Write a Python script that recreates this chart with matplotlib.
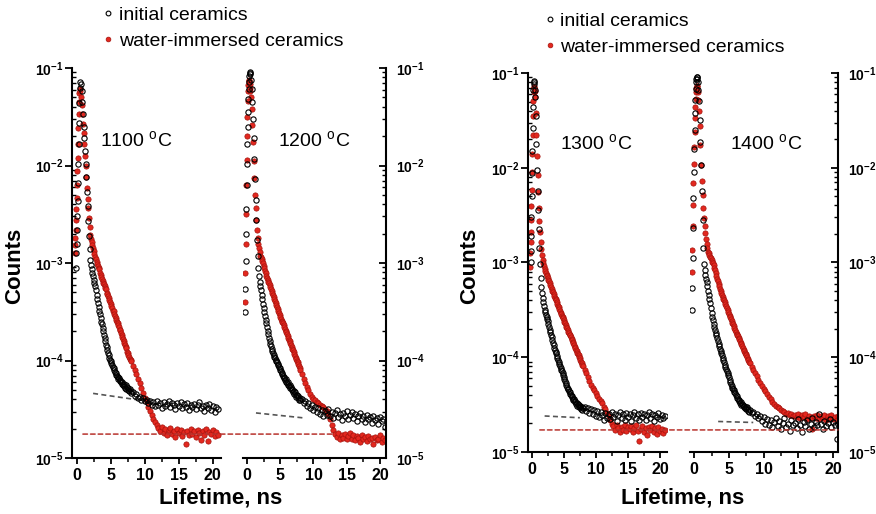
import numpy as np
import matplotlib
matplotlib.use('Agg')
import matplotlib.pyplot as plt
from matplotlib.ticker import LogLocator, FuncFormatter, NullFormatter, MultipleLocator
from matplotlib.patches import ConnectionPatch

plt.rcParams['font.family'] = ['Liberation Sans', 'DejaVu Sans']
plt.rcParams['mathtext.fontset'] = 'custom'
plt.rcParams['mathtext.rm'] = 'Liberation Sans'
plt.rcParams['mathtext.bf'] = 'Liberation Sans:bold'
plt.rcParams['mathtext.it'] = 'Liberation Sans:italic'

nan = np.nan

# time channels, ns (finer near the peak and along the decay)
t_ns = [-0.3, -0.25, -0.2, -0.15, -0.1, -0.05, 0.0, 0.05, 0.1, 0.15, 0.2, 0.25, 0.3, 0.35, 0.4, 0.45, 0.5,
        0.6, 0.7, 0.8, 0.9, 1.0, 1.1, 1.2, 1.3, 1.4, 1.5, 1.6, 1.7, 1.8, 1.9, 2.0,
        2.1, 2.2, 2.3, 2.4, 2.5, 2.6, 2.7, 2.8, 2.9, 3.0,
        3.1, 3.2, 3.3, 3.4, 3.5, 3.6, 3.7, 3.8, 3.9, 4.0,
        4.1, 4.2, 4.3, 4.4, 4.5, 4.6, 4.7, 4.8, 4.9, 5.0,
        5.1, 5.2, 5.3, 5.4, 5.5, 5.6, 5.7, 5.8, 5.9, 6.0,
        6.1, 6.2, 6.3, 6.4, 6.5, 6.6, 6.7, 6.8, 6.9, 7.0,
        7.1, 7.2, 7.3, 7.4, 7.5, 7.6, 7.7, 7.8, 7.9, 8.0,
        8.25, 8.5, 8.75, 9.0, 9.25, 9.5, 9.75, 10.0, 10.25, 10.5, 10.75, 11.0, 11.25, 11.5, 11.75, 12.0,
        12.25, 12.5, 12.75, 13.0, 13.25, 13.5, 13.75, 14.0, 14.25, 14.5,
        14.75, 15.0, 15.25, 15.5, 15.75, 16.0, 16.25, 16.5, 16.75, 17.0,
        17.25, 17.5, 17.75, 18.0, 18.25, 18.5, 18.75, 19.0, 19.25, 19.5,
        19.75, 20.0, 20.25, 20.5, 20.75]

# log10(counts)
init_1100 = [nan, nan, nan, nan, -3.05, -2.9, -2.8, -2.66, -2.52, -2.36, -2.18, -1.98, -1.78, -1.56, -1.36, -1.2, -1.14,
             -1.16, -1.24, -1.35, -1.47, -1.6, -1.72, -1.85, -1.98, -2.12, -2.27, -2.42, -2.57, -2.72, -2.86, -2.97,
             -3.02, -3.06, -3.1, -3.13, -3.17, -3.2, -3.24, -3.28, -3.33, -3.37,
             -3.41, -3.45, -3.49, -3.52, -3.56, -3.6, -3.63, -3.67, -3.7, -3.74,
             -3.77, -3.8, -3.84, -3.86, -3.89, -3.92, -3.94, -3.97, -3.99, -4.01,
             -4.03, -4.05, -4.07, -4.08, -4.1, -4.12, -4.13, -4.15, -4.16, -4.17,
             -4.19, -4.18, -4.21, -4.2, -4.22, -4.24, -4.22, -4.25, -4.24, -4.26,
             -4.28, -4.25, -4.29, -4.27, -4.3, -4.28, -4.31, -4.29, -4.33, -4.31,
             -4.32, -4.36, -4.34, -4.38, -4.37, -4.40, -4.38, -4.42, -4.40, -4.44, -4.42, -4.46, -4.43, -4.47, -4.42, -4.46,
             -4.44, -4.49, -4.43, -4.47, -4.45, -4.42, -4.48, -4.44, -4.46, -4.50,
             -4.44, -4.47, -4.43, -4.49, -4.45, -4.48, -4.44, -4.51, -4.46, -4.48,
             -4.45, -4.50, -4.46, -4.43, -4.49, -4.47, -4.52, -4.46, -4.49, -4.45,
             -4.51, -4.47, -4.53, -4.48, -4.50]
water_1100 = [-2.9, -2.82, -2.74, -2.66, -2.56, -2.45, -2.33, -2.2, -2.06, -1.92, -1.78, -1.62, -1.47, -1.35, -1.26, -1.22, -1.24,
              -1.3, -1.38, -1.47, -1.57, -1.67, -1.78, -1.9, -2.01, -2.12, -2.23, -2.34, -2.44, -2.54, -2.63, -2.71,
              -2.75, -2.78, -2.82, -2.85, -2.88, -2.91, -2.94, -2.96, -2.99, -3.01,
              -3.03, -3.05, -3.06, -3.1, -3.12, -3.14, -3.16, -3.18, -3.2, -3.22,
              -3.24, -3.26, -3.27, -3.31, -3.32, -3.34, -3.36, -3.38, -3.4, -3.42,
              -3.44, -3.46, -3.49, -3.49, -3.52, -3.54, -3.56, -3.58, -3.6, -3.62,
              -3.64, -3.66, -3.69, -3.69, -3.72, -3.74, -3.76, -3.78, -3.8, -3.82,
              -3.84, -3.86, -3.87, -3.91, -3.92, -3.94, -3.96, -3.98, -3.99, -4.01,
              -4.06, -4.10, -4.14, -4.19, -4.23, -4.28, -4.33, -4.38, -4.43, -4.48, -4.52, -4.56, -4.60, -4.63, -4.66, -4.69,
              -4.72, -4.68, -4.74, -4.70, -4.76, -4.71, -4.69, -4.75, -4.72, -4.78,
              -4.70, -4.74, -4.71, -4.77, -4.73, -4.86, -4.72, -4.76, -4.70, -4.75,
              -4.72, -4.78, -4.71, -4.74, -4.82, -4.72, -4.76, -4.70, -4.83, -4.73,
              -4.75, -4.71, -4.77, -4.73, -4.76]
init_1200 = [-3.5, -3.27, -2.98, -2.7, -2.45, -2.2, -1.98, -1.78, -1.6, -1.45, -1.32, -1.22, -1.14, -1.08, -1.05, -1.04, -1.06,
             -1.12, -1.22, -1.35, -1.52, -1.72, -1.93, -2.14, -2.35, -2.56, -2.76, -2.93, -3.05, -3.13, -3.19, -3.24,
             -3.28, -3.33, -3.37, -3.42, -3.46, -3.5, -3.54, -3.58, -3.62, -3.66,
             -3.7, -3.73, -3.77, -3.8, -3.83, -3.85, -3.88, -3.9, -3.92, -3.94,
             -3.96, -3.97, -3.99, -4.01, -4.02, -4.04, -4.05, -4.07, -4.08, -4.1,
             -4.11, -4.13, -4.14, -4.16, -4.17, -4.18, -4.2, -4.19, -4.22, -4.23,
             -4.22, -4.25, -4.26, -4.25, -4.28, -4.27, -4.3, -4.29, -4.32, -4.31,
             -4.34, -4.32, -4.35, -4.37, -4.35, -4.38, -4.36, -4.4, -4.38, -4.41,
             -4.39, -4.44, -4.42, -4.47, -4.44, -4.49, -4.46, -4.51, -4.48, -4.53, -4.49, -4.55, -4.51, -4.57, -4.52, -4.56,
             -4.50, -4.57, -4.53, -4.59, -4.54, -4.51, -4.58, -4.55, -4.61, -4.54,
             -4.57, -4.52, -4.60, -4.56, -4.53, -4.59, -4.55, -4.62, -4.57, -4.54,
             -4.60, -4.57, -4.63, -4.56, -4.60, -4.58, -4.64, -4.57, -4.61, -4.59,
             -4.65, -4.58, -4.62, -4.60, -4.68]
water_1200 = [-3.4, -3.1, -2.8, -2.5, -2.2, -1.94, -1.7, -1.5, -1.34, -1.24, -1.17, -1.13, -1.12, -1.13, -1.16, -1.2, -1.24,
              -1.3, -1.42, -1.58, -1.76, -1.95, -2.13, -2.3, -2.44, -2.56, -2.66, -2.74, -2.8, -2.85, -2.89, -2.93,
              -2.94, -2.96, -2.98, -3.0, -3.03, -3.05, -3.08, -3.1, -3.13, -3.15,
              -3.17, -3.19, -3.21, -3.23, -3.25, -3.27, -3.29, -3.31, -3.33, -3.35,
              -3.37, -3.39, -3.41, -3.43, -3.45, -3.47, -3.49, -3.51, -3.53, -3.55,
              -3.57, -3.59, -3.61, -3.62, -3.64, -3.66, -3.68, -3.7, -3.71, -3.73,
              -3.75, -3.77, -3.79, -3.8, -3.82, -3.84, -3.86, -3.88, -3.89, -3.91,
              -3.93, -3.95, -3.97, -3.98, -4.0, -4.02, -4.04, -4.06, -4.08, -4.1,
              -4.14, -4.19, -4.23, -4.27, -4.30, -4.34, -4.37, -4.39, -4.41, -4.43, -4.44, -4.46, -4.47, -4.48, -4.50, -4.52,
              -4.55, -4.60, -4.66, -4.71, -4.75, -4.78, -4.74, -4.80, -4.76, -4.79,
              -4.75, -4.81, -4.77, -4.74, -4.80, -4.76, -4.82, -4.77, -4.79, -4.84,
              -4.76, -4.80, -4.78, -4.83, -4.77, -4.81, -4.79, -4.86, -4.78, -4.82,
              -4.80, -4.76, -4.84, -4.79, -4.82]
init_1300 = [nan, nan, -3.0, -2.88, -2.72, -2.52, -2.3, -2.06, -1.82, -1.58, -1.36, -1.18, -1.09, -1.08, -1.12, -1.18, -1.25,
             -1.45, -1.75, -2.02, -2.25, -2.45, -2.65, -2.85, -3.02, -3.16, -3.26, -3.32, -3.37, -3.42, -3.46, -3.50,
             -3.52, -3.55, -3.57, -3.6, -3.62, -3.65, -3.68, -3.71, -3.73, -3.76,
             -3.79, -3.82, -3.85, -3.87, -3.9, -3.92, -3.94, -3.96, -3.99, -4.01,
             -4.03, -4.05, -4.07, -4.09, -4.11, -4.13, -4.15, -4.17, -4.19, -4.21,
             -4.23, -4.25, -4.27, -4.29, -4.31, -4.33, -4.34, -4.36, -4.37, -4.39,
             -4.4, -4.42, -4.41, -4.44, -4.45, -4.44, -4.47, -4.46, -4.49, -4.48,
             -4.51, -4.49, -4.53, -4.5, -4.53, -4.51, -4.55, -4.52, -4.56, -4.54,
             -4.52, -4.57, -4.54, -4.59, -4.55, -4.60, -4.56, -4.62, -4.57, -4.63, -4.58, -4.61, -4.66, -4.59, -4.64, -4.60,
             -4.65, -4.58, -4.63, -4.60, -4.67, -4.61, -4.58, -4.64, -4.60, -4.66,
             -4.59, -4.63, -4.60, -4.67, -4.61, -4.58, -4.64, -4.60, -4.66, -4.59,
             -4.63, -4.60, -4.66, -4.61, -4.58, -4.64, -4.60, -4.67, -4.61, -4.63,
             -4.59, -4.65, -4.61, -4.64, -4.62]
water_1300 = [-3.05, -2.9, -2.78, -2.68, -2.55, -2.4, -2.24, -2.05, -1.85, -1.65, -1.45, -1.3, -1.2, -1.15, -1.15, -1.19, -1.25,
              -1.42, -1.65, -1.88, -2.08, -2.26, -2.42, -2.56, -2.68, -2.78, -2.86, -2.92, -2.97, -3.01, -3.04, -3.07,
              -3.09, -3.11, -3.13, -3.14, -3.16, -3.18, -3.2, -3.22, -3.24, -3.26,
              -3.28, -3.3, -3.31, -3.33, -3.35, -3.37, -3.38, -3.4, -3.42, -3.44,
              -3.46, -3.47, -3.49, -3.51, -3.53, -3.54, -3.56, -3.58, -3.59, -3.61,
              -3.63, -3.64, -3.66, -3.68, -3.69, -3.71, -3.73, -3.74, -3.76, -3.77,
              -3.79, -3.81, -3.82, -3.84, -3.85, -3.87, -3.89, -3.9, -3.92, -3.93,
              -3.95, -3.97, -3.98, -4.0, -4.01, -4.03, -4.05, -4.06, -4.08, -4.09,
              -4.13, -4.17, -4.21, -4.25, -4.29, -4.32, -4.35, -4.38, -4.41, -4.44, -4.46, -4.48, -4.52, -4.55, -4.59, -4.62,
              -4.66, -4.70, -4.73, -4.77, -4.72, -4.75, -4.79, -4.74, -4.77, -4.72,
              -4.78, -4.74, -4.76, -4.73, -4.79, -4.75, -4.72, -4.78, -4.88, -4.76,
              -4.73, -4.79, -4.75, -4.82, -4.74, -4.77, -4.73, -4.79, -4.75, -4.81,
              -4.74, -4.78, -4.76, -4.80, -4.77]
init_1400 = [-3.5, -3.27, -2.95, -2.64, -2.32, -2.05, -1.8, -1.6, -1.42, -1.28, -1.17, -1.1, -1.06, -1.04, -1.04, -1.06, -1.1,
             -1.18, -1.3, -1.5, -1.73, -1.97, -2.25, -2.55, -2.85, -3.02, -3.08, -3.13, -3.17, -3.21, -3.25, -3.30,
             -3.34, -3.38, -3.43, -3.48, -3.53, -3.57, -3.61, -3.65, -3.68, -3.71,
             -3.74, -3.77, -3.8, -3.83, -3.86, -3.88, -3.91, -3.93, -3.96, -3.98,
             -4.01, -4.03, -4.05, -4.08, -4.1, -4.12, -4.15, -4.17, -4.19, -4.21,
             -4.24, -4.26, -4.28, -4.3, -4.32, -4.34, -4.35, -4.37, -4.38, -4.4,
             -4.41, -4.43, -4.44, -4.45, -4.46, -4.48, -4.47, -4.5, -4.49, -4.5,
             -4.53, -4.51, -4.54, -4.52, -4.55, -4.53, -4.57, -4.55, -4.58, -4.56,
             -4.59, -4.58, -4.62, -4.60, -4.64, -4.62, -4.67, -4.63, -4.70, -4.65, -4.72, -4.66, -4.74, -4.68, -4.64, -4.73,
             -4.67, -4.76, -4.69, -4.64, -4.74, -4.70, -4.78, -4.66, -4.72, -4.69,
             -4.75, -4.65, -4.71, -4.79, -4.68, -4.73, -4.66, -4.76, -4.70, -4.64,
             -4.74, -4.68, -4.72, -4.60, -4.70, -4.76, -4.67, -4.73, -4.69, -4.65,
             -4.74, -4.68, -4.72, -4.86, -4.70]
water_1400 = [-3.1, -2.87, -2.62, -2.39, -2.16, -1.96, -1.78, -1.62, -1.48, -1.36, -1.27, -1.2, -1.16, -1.14, -1.14, -1.16, -1.2,
              -1.28, -1.4, -1.56, -1.76, -1.97, -2.14, -2.29, -2.42, -2.53, -2.62, -2.69, -2.75, -2.8, -2.85, -2.89,
              -2.9, -2.92, -2.94, -2.95, -2.97, -2.99, -3.01, -3.03, -3.06, -3.08,
              -3.11, -3.14, -3.17, -3.2, -3.23, -3.25, -3.28, -3.3, -3.32, -3.34,
              -3.36, -3.38, -3.4, -3.42, -3.44, -3.46, -3.48, -3.5, -3.52, -3.54,
              -3.56, -3.58, -3.6, -3.62, -3.64, -3.65, -3.67, -3.69, -3.71, -3.73,
              -3.75, -3.76, -3.78, -3.8, -3.81, -3.83, -3.85, -3.86, -3.88, -3.9,
              -3.92, -3.93, -3.95, -3.97, -3.98, -4.0, -4.02, -4.03, -4.05, -4.06,
              -4.10, -4.13, -4.17, -4.20, -4.24, -4.27, -4.30, -4.33, -4.36, -4.39, -4.42, -4.44, -4.47, -4.49, -4.51, -4.53,
              -4.54, -4.56, -4.57, -4.58, -4.60, -4.59, -4.61, -4.60, -4.62, -4.61,
              -4.63, -4.60, -4.64, -4.61, -4.63, -4.60, -4.65, -4.62, -4.64, -4.76,
              -4.62, -4.64, -4.61, -4.65, -4.62, -4.64, -4.61, -4.66, -4.62, -4.64,
              -4.61, -4.65, -4.63, -4.66, -4.62]

temps = ['1100', '1200', '1300', '1400']
initial = [init_1100, init_1200, init_1300, init_1400]
water = [water_1100, water_1200, water_1300, water_1400]

# grey dashed background fits (t, counts)
fit_t = [[2.4, 9.0], [1.35, 8.5], [2.0, 7.5], [3.45, 8.5]]
fit_y = [[4.6e-5, 3.95e-5], [2.9e-5, 2.58e-5], [2.4e-5, 2.3e-5], [2.1e-5, 2.05e-5]]
# red dashed levels spanning each pair (start t, end t, counts)
red_level = [(0.9, 13.0, 1.76e-5), (1.25, 20.7, 1.71e-5)]

RED = '#e3281f'
RED_EDGE = '#a3120c'

fig = plt.figure(figsize=(8.76, 5.14), dpi=100)
rects = [[0.0822, 0.1089, 0.1701, 0.7588],
         [0.2774, 0.1089, 0.1632, 0.7588],
         [0.6027, 0.1206, 0.1587, 0.7374],
         [0.7877, 0.1206, 0.1689, 0.7374]]
xlims = [(-0.7, 21.2), (-0.6, 20.9), (-0.6, 21.1), (-0.6, 20.7)]
txt_x = [0.19, 0.245, 0.23, 0.27]

logfmt = FuncFormatter(lambda v, p: r'$\mathbf{10^{%d}}$' % int(round(np.log10(v))))

axes = []
for i in range(4):
    ax = fig.add_axes(rects[i])
    axes.append(ax)
    ax.plot(fit_t[i], fit_y[i], ls=(0, (3, 2)), color='#555555', lw=1.2, zorder=1)
    ax.plot(t_ns, 10 ** np.array(water[i]), 'o', ls='none', ms=3.8, mfc=RED, mec=RED_EDGE,
            mew=0.5, zorder=2, label='water-immersed ceramics')
    ax.plot(t_ns, 10 ** np.array(initial[i]), 'o', ls='none', ms=3.8, mfc='none', mec='black',
            mew=0.8, zorder=3, label='initial ceramics')
    ax.set_yscale('log')
    ax.set_ylim(1e-5, 1e-1)
    ax.set_xlim(*xlims[i])
    ax.xaxis.set_major_locator(MultipleLocator(5))
    ax.xaxis.set_minor_locator(MultipleLocator(2.5))
    ax.yaxis.set_major_locator(LogLocator(base=10))
    ax.yaxis.set_minor_locator(LogLocator(base=10, subs=np.arange(2, 10)))
    ax.yaxis.set_major_formatter(logfmt)
    ax.yaxis.set_minor_formatter(NullFormatter())
    ax.spines['top'].set_visible(False)
    for s in ax.spines.values():
        s.set_linewidth(1.5)
    ax.tick_params(axis='x', which='major', direction='out', length=4.5, width=1.3, pad=3, labelsize=11.5)
    ax.tick_params(axis='x', which='minor', direction='out', length=3, width=1.1)
    for lab in ax.get_xticklabels():
        lab.set_fontweight('bold')
    if i % 2 == 0:
        ax.spines['right'].set_visible(False)
        ax.tick_params(axis='y', which='major', direction='out', length=5, width=1.3, pad=1, labelsize=10)
        ax.tick_params(axis='y', which='minor', direction='in', length=3, width=1.0)
    else:
        ax.spines['left'].set_visible(False)
        ax.yaxis.tick_right()
        ax.tick_params(axis='y', which='major', direction='in', length=5, width=1.3, pad=7, labelsize=10)
        ax.tick_params(axis='y', which='minor', direction='in', length=3, width=1.0)
    ax.text(txt_x[i], 0.815, temps[i] + r' $^{\mathrm{o}}$C', transform=ax.transAxes,
            fontsize=14, va='center', ha='left')

# red dashed line running across each pair of panels
for k, (a, b) in enumerate([(0, 1), (2, 3)]):
    t0, t1, lvl = red_level[k]
    con = ConnectionPatch(xyA=(t0, lvl), coordsA=axes[a].transData,
                          xyB=(t1, lvl), coordsB=axes[b].transData,
                          color='#b8322c', lw=1.1, ls=(0, (3, 2)))
    fig.add_artist(con)

# legends
for ax, x0, y0 in [(axes[0], 0.118, 0.987), (axes[2], 0.622, 0.976)]:
    h, l = ax.get_legend_handles_labels()
    fig.legend(h[::-1], l[::-1], loc='upper left', bbox_to_anchor=(x0, y0), frameon=False,
               fontsize=14, handlelength=0.5, handletextpad=0.3, labelspacing=0.42,
               borderpad=0, borderaxespad=0, markerscale=0.9)

# axis titles
for xc in (15 / 876, 470 / 876):
    fig.text(xc, 0.483, 'Counts', rotation=90, fontsize=16, fontweight='bold', ha='center', va='center')
for xc in (221 / 876, 683 / 876):
    fig.text(xc, 0.031, 'Lifetime, ns', fontsize=16, fontweight='bold', ha='center', va='center')

fig.savefig('out.png', dpi=100)
